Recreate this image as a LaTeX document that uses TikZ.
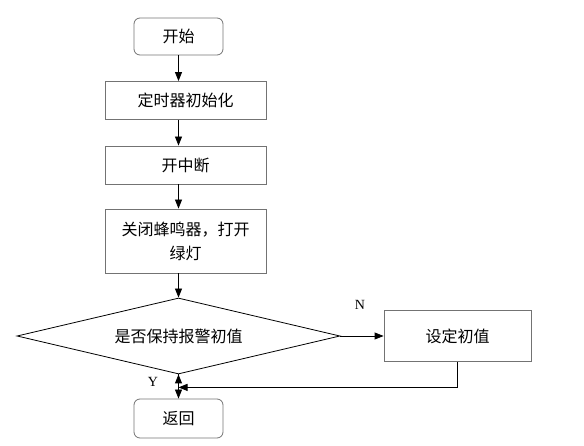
\documentclass[tikz,border=0pt]{standalone}
\usepackage{fontspec}
\setmainfont{Liberation Serif}
\newfontfamily\cjk{Noto Sans CJK SC}
\usetikzlibrary{shapes.geometric,arrows.meta}

\tikzset{
	proc/.style={rectangle,draw=black!55,line width=0.8pt,inner sep=0pt,
		font=\cjk\fontsize{16}{24}\selectfont,align=center},
	term/.style={proc,rounded corners=6pt},
	decide/.style={diamond,draw=black,line width=0.8pt,inner sep=0pt,aspect=4.25,
		font=\cjk\fontsize{16}{24}\selectfont},
	lbl/.style={font=\fontsize{14}{14}\selectfont,inner sep=0pt}
}

\begin{document}
\begin{tikzpicture}[x=1pt,y=-1pt,>={Triangle[length=9pt,width=7pt]}]
		\useasboundingbox (0,0) rectangle (584,446);
		\node[term,minimum width=89pt,minimum height=37pt] (start) at (178.5,36.5) {开始};
		\node[proc,minimum width=161pt,minimum height=38pt] (init) at (185.5,100.5) {定时器初始化};
		\node[proc,minimum width=161pt,minimum height=38pt] (intr) at (185.5,165) {开中断};
		\node[proc,minimum width=161pt,minimum height=64pt] (alarm) at (185.5,241) {关闭蜂鸣器，打开\\绿灯};
		\node[decide,minimum width=323pt,minimum height=76pt] (judge) at (178.5,336) {是否保持报警初值};
		\node[proc,minimum width=147pt,minimum height=51pt] (setval) at (457.5,336) {设定初值};
		\node[term,minimum width=89pt,minimum height=39pt] (ret) at (178.5,418.5) {返回};
		\coordinate (merge) at ([yshift=-13pt]judge.south);
		%
		\path[->,draw,line width=0.8pt]
		(start.south) edge (start.south |- init.north)
		(start.south |- init.south) edge (start.south |- intr.north)
		(start.south |- intr.south) edge (start.south |- alarm.north)
		(start.south |- alarm.south) edge (judge.north)
		(judge.east) edge node[lbl,pos=0.45,above=26pt]{N} (setval.west)
		(judge.south) edge node[lbl,pos=0.3,left=20pt]{Y} (ret.north);
		\draw[->,line width=0.8pt] (setval.south) |- (merge);
\end{tikzpicture}
\end{document}
